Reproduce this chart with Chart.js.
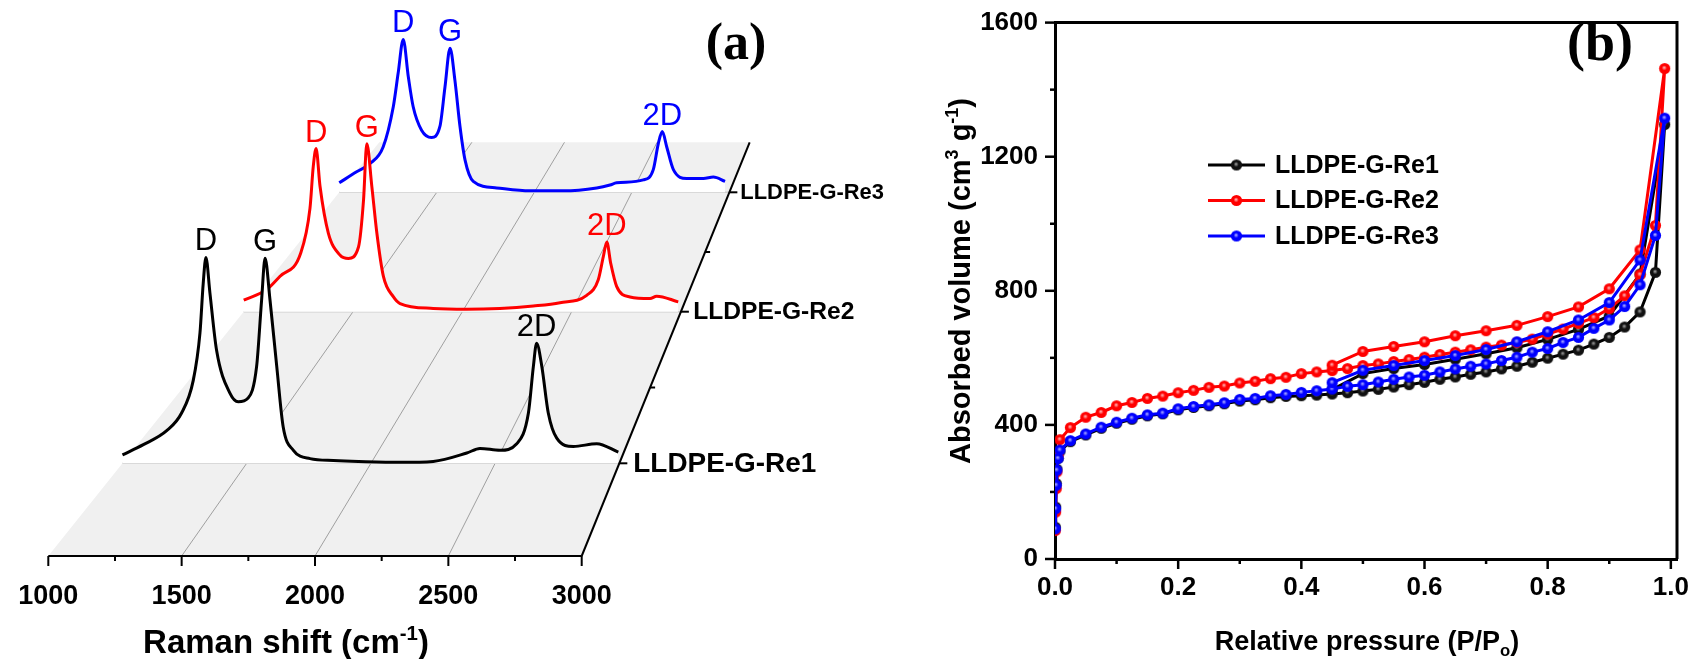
<!DOCTYPE html>
<html>
<head>
<meta charset="utf-8">
<script src="https://cdn.jsdelivr.net/npm/chart.js@4.4.1/dist/chart.umd.min.js"></script>
<style>
html, body { margin: 0; padding: 0; background: #fff; }
#wrap { position: relative; width: 1694px; height: 659px; overflow: hidden; }
#cA { position: absolute; left: 0; top: 0; }
#cB { position: absolute; left: 860px; top: 0; }
</style>
</head>
<body>
<div id="wrap">
  <canvas id="cA" width="900" height="659"></canvas>
  <canvas id="cB" width="834" height="659"></canvas>
</div>
<script>
// ---------- panel (a): Raman spectra (shift in cm-1, intensity a.u.) ----------
var re1Shift = [1000,1084,1178,1238,1285,1312,1325,1336,1352,1379,1433,1466,1506,1540,1560,1574,1594,1621,1647,1688,1755,1849,1950,2117,2251,2386,2439,2520,2587,2634,2654,2667,2688,2714,2748,2815,2909,2996];
var re1Int   = [9,20,35,54,89,140,193,221,183,121,75,66,70,104,175,220,175,104,39,14,5,3,2,1,2,11,16,14,21,54,104,129,104,54,27,18,21,12];
var re2Shift = [1000,1105,1165,1260,1303,1318,1331,1349,1387,1441,1479,1525,1548,1563,1586,1609,1639,1685,1715,1867,2020,2172,2325,2447,2569,2622,2645,2661,2679,2706,2767,2859,2889,2988];
var re2Int   = [14,27,43,71,126,177,199,153,96,69,65,79,136,205,153,96,43,18,10,4,3,4,7,11,20,39,67,85,59,31,18,16,19,12];
var re3Shift = [1000,1089,1157,1225,1277,1302,1328,1354,1379,1422,1473,1516,1542,1568,1593,1619,1645,1687,1807,1978,2149,2320,2388,2422,2559,2610,2636,2656,2679,2713,2781,2867,2918,2978];
var re3Int   = [13,28,39,62,117,163,209,158,117,85,75,90,144,197,153,90,44,15,6,2,2,6,10,13,17,31,67,83,62,31,19,19,21,15];

var sampleNames = ['LLDPE-G-Re1', 'LLDPE-G-Re2', 'LLDPE-G-Re3'];
var peakNames = ['D', 'G', '2D'];
var re1Peaks = [1336, 1574, 2667];
var re2Peaks = [1331, 1563, 2661];
var re3Peaks = [1328, 1568, 2656];
var ramanTicks = [1000, 1500, 2000, 2500, 3000];

// ---------- panel (b): N2 isotherms ----------
var adsP = [0.0005,0.001,0.002,0.003,0.005,0.008,0.025,0.05,0.075,0.1,0.125,0.15,0.175,0.2,0.225,0.25,0.275,0.3,0.325,0.35,0.375,0.4,0.425,0.45,0.475,0.5,0.525,0.55,0.575,0.6,0.625,0.65,0.675,0.7,0.725,0.75,0.775,0.8,0.825,0.85,0.875,0.9,0.925,0.95,0.975,0.99];
var re1Ads = [95,155,225,268,300,322,350,370,390,405,417,427,433,445,452,457,463,471,475,481,485,487,489,492,496,501,506,513,520,527,536,543,551,558,567,575,587,599,611,623,641,661,692,737,855,1296];
var re2Ads = [85,140,210,260,310,356,392,423,437,457,467,479,486,496,503,512,516,525,530,538,542,553,558,562,568,577,582,589,595,602,610,617,624,632,638,646,656,671,686,703,720,747,785,848,995,1463];
var re3Ads = [90,150,220,265,300,325,353,373,393,408,420,430,435,448,455,460,466,476,479,487,491,497,502,507,515,520,528,536,543,548,558,567,575,582,592,602,617,628,646,661,688,713,753,818,965,1315];
var desP = [0.95,0.9,0.85,0.8,0.75,0.7,0.65,0.6,0.55,0.5,0.45];
var re1Des = [850,725,685,655,630,612,596,580,568,553,505];
var re2Des = [922,806,752,723,697,681,666,648,634,619,578];
var re3Des = [892,765,713,678,648,625,607,592,577,563,526];
var volTicks = [0, 400, 800, 1200, 1600];
var pTicks = [0, 0.2, 0.4, 0.6, 0.8, 1.0];

var colors = ['#000000', '#ff0000', '#0000ff'];
var FONT = "'Liberation Sans', Arial, sans-serif";

// ---------- 3D waterfall geometry (panel a) ----------
var ROW_DEPTH = [92.7, 244.3, 363.7];   // px behind the front edge for each spectrum
var BACK_DEPTH = 413.7;
var FRONT_PX = 533.4, L_SLOPE = 0.8, R_SLOPE = 0.406;
var UNIT = 2000 / FRONT_PX;               // cm-1 per px on the front edge

function depthScale(t) { return 1 - (L_SLOPE - R_SLOPE) * t / FRONT_PX; }
function project(shift, inten, t) {
  var s = depthScale(t);
  return { x: 1000 + L_SLOPE * t * UNIT + (shift - 1000) * s, y: t + inten * s };
}

function drawRich(ctx, parts, x, y, size) {
  var w = 0;
  parts.forEach(function (p) {
    ctx.font = 'bold ' + (p[1] ? size * 0.62 : size) + 'px ' + FONT;
    w += ctx.measureText(p[0]).width;
  });
  var cx = x - w / 2;
  ctx.textAlign = 'left';
  ctx.textBaseline = 'alphabetic';
  parts.forEach(function (p) {
    ctx.font = 'bold ' + (p[1] ? size * 0.62 : size) + 'px ' + FONT;
    var dy = p[1] === 1 ? -size * 0.4 : (p[1] === -1 ? size * 0.22 : 0);
    ctx.fillText(p[0], cx, y + dy);
    cx += ctx.measureText(p[0]).width;
  });
}

var shifts = [re1Shift, re2Shift, re3Shift];
var ints = [re1Int, re2Int, re3Int];
var peaks = [re1Peaks, re2Peaks, re3Peaks];

var ramanDecor = {
  id: 'ramanDecor',
  beforeDatasetsDraw: function (chart) {
    var ctx = chart.ctx, xs = chart.scales.x, ys = chart.scales.y;
    function P(shift, t) { var p = project(shift, 0, t); return [xs.getPixelForValue(p.x), ys.getPixelForValue(p.y)]; }
    ctx.save();
    var a = P(1000, 0), b = P(3000, 0), c = P(3000, BACK_DEPTH), d = P(1000, BACK_DEPTH);
    ctx.fillStyle = '#f0f0f0';
    ctx.beginPath();
    ctx.moveTo(a[0], a[1]); ctx.lineTo(b[0], b[1]); ctx.lineTo(c[0], c[1]); ctx.lineTo(d[0], d[1]);
    ctx.closePath(); ctx.fill();
    ctx.strokeStyle = '#8a8a8a'; ctx.lineWidth = 0.8;
    ramanTicks.slice(1, -1).forEach(function (v) {
      var p0 = P(v, 0), p1 = P(v, BACK_DEPTH);
      ctx.beginPath(); ctx.moveTo(p0[0], p0[1]); ctx.lineTo(p1[0], p1[1]); ctx.stroke();
    });
    ctx.strokeStyle = '#cdcdcd'; ctx.lineWidth = 1.5;
    ROW_DEPTH.forEach(function (t) {
      var p0 = P(1000, t), p1 = P(3000, t);
      ctx.beginPath(); ctx.moveTo(p0[0], p0[1]); ctx.lineTo(p1[0], p1[1]); ctx.stroke();
    });
    ctx.restore();
  },
  afterDatasetsDraw: function (chart) {
    var ctx = chart.ctx, xs = chart.scales.x, ys = chart.scales.y;
    function P(shift, t) { var p = project(shift, 0, t); return [xs.getPixelForValue(p.x), ys.getPixelForValue(p.y)]; }
    ctx.save();
    ctx.strokeStyle = '#000'; ctx.lineWidth = 2;
    // front axis
    var f0 = P(1000, 0), f1 = P(3000, 0);
    ctx.beginPath(); ctx.moveTo(f0[0], f0[1]); ctx.lineTo(f1[0], f1[1]); ctx.stroke();
    for (var v = 1000; v <= 3000; v += 250) {
      var px = xs.getPixelForValue(v), len = ramanTicks.indexOf(v) >= 0 ? 10 : 5;
      ctx.beginPath(); ctx.moveTo(px, f0[1]); ctx.lineTo(px, f0[1] + len); ctx.stroke();
    }
    // depth axis
    var d1 = P(3000, BACK_DEPTH);
    ctx.beginPath(); ctx.moveTo(f1[0], f1[1]); ctx.lineTo(d1[0], d1[1]); ctx.stroke();
    ROW_DEPTH.forEach(function (t, i) {
      var p = P(3000, t), s = depthScale(t);
      ctx.beginPath(); ctx.moveTo(p[0], p[1]); ctx.lineTo(p[0] + 8, p[1]); ctx.stroke();
      if (i > 0) {
        var m = P(3000, (t + ROW_DEPTH[i - 1]) / 2);
        ctx.beginPath(); ctx.moveTo(m[0], m[1]); ctx.lineTo(m[0] + 5, m[1]); ctx.stroke();
      }
      ctx.fillStyle = '#000';
      ctx.font = 'bold ' + (30 * s).toFixed(1) + 'px ' + FONT;
      ctx.textAlign = 'left'; ctx.textBaseline = 'middle';
      ctx.fillText(sampleNames[i], p[0] + 15 * s, p[1] + 1);
    });
    // peak labels
    ctx.font = '31px ' + FONT;
    ctx.textAlign = 'center'; ctx.textBaseline = 'alphabetic';
    peaks.forEach(function (list, i) {
      ctx.fillStyle = colors[i];
      list.forEach(function (pk, k) {
        var j = shifts[i].indexOf(pk);
        var p = project(pk, ints[i][j], ROW_DEPTH[i]);
        ctx.fillText(peakNames[k], xs.getPixelForValue(p.x), ys.getPixelForValue(p.y) - 7);
      });
    });
    // titles
    ctx.fillStyle = '#000';
    drawRich(ctx, [['Raman shift (cm', 0], ['-1', 1], [')', 0]], 286, 653, 33);
    ctx.font = 'bold 52px "Liberation Serif", "Times New Roman", serif';
    ctx.textAlign = 'center'; ctx.textBaseline = 'middle';
    ctx.fillText('(a)', 736, 46);
    ctx.restore();
  }
};

new Chart(document.getElementById('cA'), {
  type: 'line',
  data: {
    datasets: [0, 1, 2].map(function (i) {
      return {
        label: sampleNames[i],
        data: shifts[i].map(function (v, k) { return project(v, ints[i][k], ROW_DEPTH[i]); }),
        borderColor: colors[i],
        borderWidth: 3,
        backgroundColor: '#ffffff',
        fill: { value: ROW_DEPTH[i] },
        pointRadius: 0,
        pointHoverRadius: 0,
        cubicInterpolationMode: 'monotone',
        clip: false
      };
    })
  },
  options: {
    responsive: false,
    animation: false,
    events: [],
    layout: { padding: { left: 48.3, right: 140, top: 0, bottom: 0 } },
    plugins: { legend: { display: false }, tooltip: { enabled: false } },
    scales: {
      x: {
        type: 'linear',
        bounds: 'data',
        afterDataLimits: function (s) { s.min = 1000; s.max = 1000 + (900 - 140 - 48.3) * UNIT; },
        afterBuildTicks: function (s) {
          var t = [];
          for (var v = 1000; v <= 3000; v += 250) t.push({ value: v });
          s.ticks = t;
        },
        afterFit: function (s) { s.height = 103; },
        ticks: {
          autoSkip: false, maxRotation: 0, padding: 14, color: '#000',
          font: { family: FONT, size: 27, weight: 'bold' },
          callback: function (v) { return ramanTicks.indexOf(v) >= 0 ? String(v) : ''; }
        },
        grid: { display: true, drawOnChartArea: false, tickLength: 10, tickColor: 'rgba(0,0,0,0)' },
        border: { display: false }
      },
      y: { type: 'linear', display: false, min: 0, max: 556 }
    }
  },
  plugins: [ramanDecor]
});

// ---------- panel (b) ----------
function makeBall(color, light) {
  var c = document.createElement('canvas');
  c.width = 13; c.height = 13;
  var g = c.getContext('2d');
  var grad = g.createRadialGradient(6, 5.5, 0.3, 6.5, 6.5, 6);
  grad.addColorStop(0, light);
  grad.addColorStop(0.4, color);
  grad.addColorStop(1, color);
  g.fillStyle = grad;
  g.beginPath(); g.arc(6.5, 6.5, 5.6, 0, Math.PI * 2); g.fill();
  return c;
}
var balls = [makeBall('#111', '#9a9a9a'), makeBall('#ff0000', '#ffb0b0'), makeBall('#0000ff', '#a8a8ff')];

var adsSets = [re1Ads, re2Ads, re3Ads];
var desSets = [re1Des, re2Des, re3Des];

var isoDecor = {
  id: 'isoDecor',
  afterDraw: function (chart) {
    var ctx = chart.ctx, a = chart.chartArea, xs = chart.scales.x, ys = chart.scales.y;
    ctx.save();
    ctx.strokeStyle = '#000'; ctx.lineWidth = 3;
    ctx.beginPath();
    ctx.moveTo(a.left, a.top); ctx.lineTo(a.right, a.top); ctx.lineTo(a.right, a.bottom);
    ctx.stroke();
    ctx.lineWidth = 2.5;
    xs.ticks.forEach(function (t) {
      var major = pTicks.some(function (p) { return Math.abs(p - t.value) < 1e-6; });
      var px = xs.getPixelForValue(t.value);
      ctx.beginPath(); ctx.moveTo(px, a.bottom); ctx.lineTo(px, a.bottom + (major ? 10 : 5)); ctx.stroke();
    });
    ys.ticks.forEach(function (t) {
      var major = volTicks.indexOf(t.value) >= 0;
      var py = ys.getPixelForValue(t.value);
      ctx.beginPath(); ctx.moveTo(a.left, py); ctx.lineTo(a.left - (major ? 10 : 5), py); ctx.stroke();
    });
    // legend
    chart.data.datasets.forEach(function (ds, i) {
      var y = 165 + i * 35.5;
      ctx.strokeStyle = colors[i]; ctx.lineWidth = 3;
      ctx.beginPath(); ctx.moveTo(348, y); ctx.lineTo(405, y); ctx.stroke();
      ctx.drawImage(balls[i], 376.5 - 6.5, y - 6.5);
      ctx.fillStyle = '#000';
      ctx.font = 'bold 25px ' + FONT;
      ctx.textAlign = 'left'; ctx.textBaseline = 'middle';
      ctx.fillText(ds.label, 415, y + 1);
    });
    // titles
    ctx.fillStyle = '#000';
    drawRich(ctx, [['Relative pressure (P/P', 0], ['o', -1], [')', 0]], 507, 650, 27);
    ctx.save();
    ctx.translate(110, 281);
    ctx.rotate(-Math.PI / 2);
    drawRich(ctx, [['Absorbed volume (cm', 0], ['3', 1], [' g', 0], ['-1', 1], [')', 0]], 0, 0, 29);
    ctx.restore();
    ctx.font = 'bold 54px "Liberation Serif", "Times New Roman", serif';
    ctx.textAlign = 'center'; ctx.textBaseline = 'middle';
    ctx.fillText('(b)', 740, 46);
    ctx.restore();
  }
};

new Chart(document.getElementById('cB'), {
  type: 'line',
  data: {
    datasets: [0, 1, 2].map(function (i) {
      var pts = adsP.map(function (p, k) { return { x: p, y: adsSets[i][k] }; })
        .concat(desP.map(function (p, k) { return { x: p, y: desSets[i][k] }; }));
      return {
        label: sampleNames[i],
        data: pts,
        borderColor: colors[i],
        borderWidth: 3,
        pointStyle: balls[i],
        pointRadius: 5,
        pointHoverRadius: 5,
        tension: 0,
        fill: false,
        order: 3 - i
      };
    })
  },
  options: {
    responsive: false,
    animation: false,
    events: [],
    layout: { padding: { left: 0, right: 17, top: 17, bottom: 0 } },
    plugins: { legend: { display: false }, tooltip: { enabled: false } },
    scales: {
      x: {
        type: 'linear', min: 0, max: 1.01,
        afterFit: function (s) { s.height = 100; },
        ticks: {
          stepSize: 0.1, includeBounds: false, autoSkip: false, maxRotation: 0, padding: 3, color: '#000',
          font: { family: FONT, size: 26, weight: 'bold' },
          callback: function (v) {
            return pTicks.some(function (p) { return Math.abs(p - v) < 1e-6; }) ? v.toFixed(1) : '';
          }
        },
        grid: { display: true, drawOnChartArea: false, tickLength: 10, tickColor: 'rgba(0,0,0,0)' },
        border: { display: true, color: '#000', width: 3 }
      },
      y: {
        type: 'linear', min: 0, max: 1600,
        afterFit: function (s) { s.width = 195; },
        ticks: {
          stepSize: 200, autoSkip: false, padding: 7, color: '#000',
          font: { family: FONT, size: 26, weight: 'bold' },
          callback: function (v) { return volTicks.indexOf(v) >= 0 ? String(v) : ''; }
        },
        grid: { display: true, drawOnChartArea: false, tickLength: 10, tickColor: 'rgba(0,0,0,0)' },
        border: { display: true, color: '#000', width: 3 }
      }
    }
  },
  plugins: [isoDecor]
});
</script>
</body>
</html>
